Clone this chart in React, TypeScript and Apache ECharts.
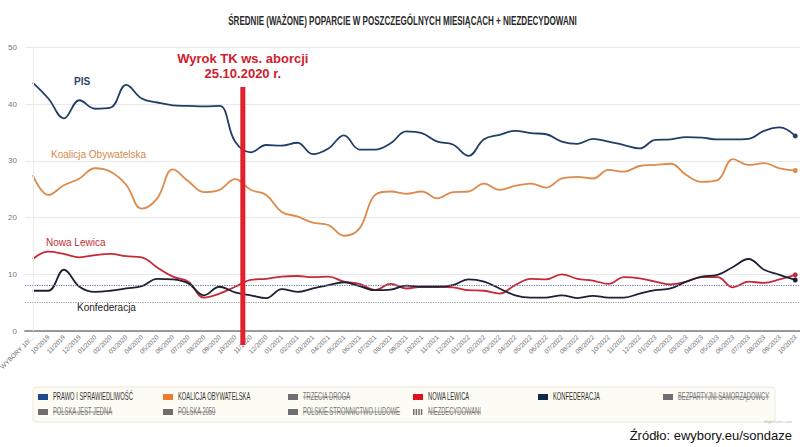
import React, { useEffect, useRef } from "react";
import * as echarts from "echarts";

const categories = [
  "WYBORY 10/2019",
  "10/2019", "11/2019", "12/2019",
  "01/2020", "02/2020", "03/2020", "04/2020", "05/2020", "06/2020", "07/2020", "08/2020", "09/2020", "10/2020", "11/2020", "12/2020",
  "01/2021", "02/2021", "03/2021", "04/2021", "05/2021", "06/2021", "07/2021", "08/2021", "09/2021", "10/2021", "11/2021", "12/2021",
  "01/2022", "02/2022", "03/2022", "04/2022", "05/2022", "06/2022", "07/2022", "08/2022", "09/2022", "10/2022", "11/2022", "12/2022",
  "01/2023", "02/2023", "03/2023", "04/2023", "05/2023", "06/2023", "07/2023", "08/2023", "09/2023", "10/2023",
];

const pis = [43.8, 41.0, 37.5, 40.7, 39.2, 39.4, 43.4, 41.0, 40.3, 39.8, 39.7, 39.6, 39.7, 33.4, 31.5, 32.8, 32.7, 33.2, 31.2, 32.2, 34.5, 32.0, 32.0, 33.1, 35.2, 34.9, 33.4, 32.9, 30.9, 33.8, 34.6, 35.3, 34.9, 34.7, 33.4, 33.0, 33.9, 33.4, 32.8, 32.2, 33.7, 33.8, 34.2, 34.1, 33.8, 33.8, 33.9, 35.3, 35.9, 34.4];
const ko = [27.5, 24.0, 25.7, 26.9, 28.7, 28.1, 25.8, 21.6, 23.4, 28.5, 26.4, 24.5, 24.9, 26.8, 24.9, 24.0, 21.0, 20.2, 19.1, 18.7, 16.8, 18.1, 24.0, 24.6, 24.2, 24.6, 23.4, 24.5, 24.6, 26.0, 24.9, 25.6, 26.0, 25.3, 26.9, 27.2, 26.9, 28.4, 28.1, 29.1, 29.3, 29.5, 27.5, 26.3, 26.6, 30.3, 29.3, 29.6, 28.7, 28.3];
const nl = [12.7, 14.0, 13.6, 13.0, 13.4, 13.6, 13.2, 13.0, 11.2, 9.6, 8.7, 5.9, 6.6, 7.8, 9.0, 9.2, 9.6, 9.7, 9.5, 9.6, 8.7, 8.3, 7.2, 8.3, 7.5, 7.8, 7.8, 7.7, 7.2, 7.1, 6.6, 8.1, 9.2, 9.1, 10.0, 9.2, 8.9, 8.3, 9.5, 9.3, 8.7, 8.2, 8.7, 9.5, 9.5, 7.7, 8.7, 8.5, 9.1, 9.9];
const konf = [7.1, 7.1, 10.8, 7.8, 6.9, 7.1, 7.5, 7.9, 9.2, 9.1, 8.4, 6.3, 7.8, 6.8, 6.3, 5.8, 7.4, 6.9, 7.5, 8.1, 8.6, 7.9, 7.2, 7.3, 8.0, 7.8, 7.8, 8.1, 9.1, 8.7, 7.5, 6.3, 5.9, 5.9, 6.3, 5.8, 6.2, 5.9, 5.9, 6.6, 7.2, 7.5, 8.7, 9.6, 9.9, 11.3, 12.7, 10.8, 9.9, 9.0];

const thresholds = [8, 5];
const eventPosition = 13.5; // between 10/2020 and 11/2020

const legendNames = [
  "PRAWO I SPRAWIEDLIWOŚĆ", "KOALICJA OBYWATELSKA", "TRZECIA DROGA", "NOWA LEWICA", "KONFEDERACJA", "BEZPARTYJNI SAMORZĄDOWCY",
  "POLSKA JEST JEDNA", "POLSKA 2050", "POLSKIE STRONNICTWO LUDOWE", "NIEZDECYDOWANI",
];
const legendColors = ["#1d4a8a", "#ee7d31", "#6f6f6f", "#e0101c", "#13294b", "#6f6f6f", "#6f6f6f", "#6f6f6f", "#6f6f6f", "#6f6f6f"];
const legendActive = [true, true, false, true, true, false, false, false, false, false];

const ARIAL = "'Liberation Sans', Arial, sans-serif";

function measure(text: string, font: string) {
  const c = document.createElement("canvas").getContext("2d");
  if (!c) return text.length * 5;
  c.font = font;
  return c.measureText(text).width;
}

export default function App() {
  const ref = useRef<HTMLDivElement>(null);
  useEffect(() => {
    if (!ref.current) return;
    const chart = echarts.init(ref.current, null, { renderer: "svg" });
    const last = categories.length - 1;
    const endDot = (_v: any, p: any) => (p.dataIndex === last ? 5 : 0);
    const mk = (name: string, data: number[], color: string, extra: any = {}) => ({
      type: "line",
      name,
      data,
      smooth: 0.4,
      symbol: "circle",
      showSymbol: true,
      symbolSize: endDot,
      itemStyle: { color },
      lineStyle: { color, width: 1.8 },
      ...extra,
    });
    chart.setOption({
      animation: false,
      grid: { left: 25, top: 47.5, width: 778, height: 283.5, outerBoundsMode: "none", containLabel: false },
      xAxis: {
        type: "category",
        data: categories,
        boundaryGap: true,
        axisLine: { lineStyle: { color: "#999", width: 2 } },
        axisTick: { show: false },
        splitLine: { show: false },
        axisLabel: {
          rotate: 45,
          interval: 0,
          fontSize: 6.5,
          color: "#6f6f6f",
          margin: 5,
          width: 47,
          overflow: "truncate",
          ellipsis: "...",
          fontFamily: ARIAL,
        },
      },
      yAxis: {
        type: "value",
        min: 0,
        max: 50,
        interval: 10,
        axisLine: { show: false },
        axisTick: { show: false },
        splitLine: { lineStyle: { color: "#e8e8e8", width: 1 } },
        axisLabel: { fontSize: 8, color: "#777", margin: 8, fontFamily: ARIAL },
      },
      series: [
        mk("Prawo i Sprawiedliwość", pis, "#213e66", {
          markLine: {
            silent: true,
            symbol: ["none", "none"],
            label: { show: false },
            data: [
              { yAxis: thresholds[0], lineStyle: { color: "#6b74a8", type: "dotted", width: 1.2 } },
              { yAxis: thresholds[1], lineStyle: { color: "#9a9a9a", type: "dotted", width: 1.2 } },
              { xAxis: categories[0], lineStyle: { color: "#ececec", type: "solid", width: 1 } },
            ],
          },
        }),
        mk("Koalicja Obywatelska", ko, "#de8a4c"),
        mk("Nowa Lewica", nl, "#c62a36"),
        mk("Konfederacja", konf, "#1c2233"),
      ],
    });

    const xa = chart.convertToPixel({ xAxisIndex: 0 }, categories[Math.floor(eventPosition)]) as number;
    const xb = chart.convertToPixel({ xAxisIndex: 0 }, categories[Math.ceil(eventPosition)]) as number;
    const cx = xa + (xb - xa) * (eventPosition - Math.floor(eventPosition));

    const g: any[] = [];
    // title (condensed look via horizontal scale)
    const titleText = "ŚREDNIE (WAŻONE) POPARCIE W POSZCZEGÓLNYCH MIESIĄCACH + NIEZDECYDOWANI";
    const titleFont = `bold 12.5px ${ARIAL}`;
    const titleScale = 349 / measure(titleText, titleFont);
    g.push({
      type: "text",
      x: 402.5,
      y: 20,
      scaleX: titleScale,
      style: { text: titleText, font: titleFont, fill: "#2b2b2b", align: "center", verticalAlign: "middle" },
    });
    // event line and annotation
    g.push({ type: "rect", shape: { x: cx - 2.5, y: 87, width: 5, height: 258 }, style: { fill: "#e0202a" }, z: 10 });
    g.push({
      type: "text",
      x: cx,
      y: 58,
      style: { text: "Wyrok TK ws. aborcji", font: `bold 13px ${ARIAL}`, fill: "#d0202e", align: "center", verticalAlign: "middle" },
    });
    g.push({
      type: "text",
      x: cx,
      y: 73,
      style: { text: "25.10.2020 r.", font: `bold 13px ${ARIAL}`, fill: "#d0202e", align: "center", verticalAlign: "middle" },
    });
    // series labels
    const lab = (text: string, x: number, y: number, fill: string, bold = false) =>
      g.push({ type: "text", x, y, style: { text, font: `${bold ? "bold " : ""}10px ${ARIAL}`, fill, verticalAlign: "middle" } });
    lab("PIS", 74, 81, "#2b4568", true);
    lab("Koalicja Obywatelska", 51, 154, "#d08a50");
    lab("Nowa Lewica", 46, 242, "#c0303a");
    lab("Konfederacja", 77, 307, "#222");

    // legend box
    g.push({
      type: "rect",
      shape: { x: 33, y: 387, width: 742, height: 35, r: 3 },
      style: { fill: "#fcfcf4", stroke: "#ebeadb", lineWidth: 1 },
    });
    const legFont = `10px ${ARIAL}`;
    const legScale = 80 / measure(legendNames[0], legFont);
    legendNames.forEach((name, i) => {
      const col = i % 6;
      const row = Math.floor(i / 6);
      const x = 38 + col * 125;
      const y = 397 + row * 15;
      const color = legendColors[i];
      if (name === "NIEZDECYDOWANI") {
        for (let k = 0; k < 4; k++) {
          g.push({ type: "rect", shape: { x: x + k * 2.6, y: y - 3, width: 1.5, height: 6 }, style: { fill: color } });
        }
      } else {
        g.push({ type: "rect", shape: { x, y: y - 3, width: 10, height: 6 }, style: { fill: color } });
      }
      const tcol = legendActive[i] ? "#333" : "#777";
      g.push({
        type: "text",
        x: x + 15,
        y,
        scaleX: legScale,
        style: { text: name, font: legFont, fill: tcol, verticalAlign: "middle" },
      });
      if (!legendActive[i]) {
        const w = measure(name, legFont) * legScale;
        g.push({ type: "line", shape: { x1: x + 15, y1: y, x2: x + 15 + w, y2: y }, style: { stroke: tcol, lineWidth: 0.8 } });
      }
    });
    g.push({
      type: "text",
      x: 792,
      y: 421,
      style: { text: "Highcharts.com", font: `4px ${ARIAL}`, fill: "#bbb", align: "right", verticalAlign: "middle" },
    });
    g.push({
      type: "text",
      x: 792,
      y: 435,
      style: { text: "Źródło: ewybory.eu/sondaze", font: `13px ${ARIAL}`, fill: "#111", align: "right", verticalAlign: "middle" },
    });

    chart.setOption({ graphic: { elements: g } });
    return () => chart.dispose();
  }, []);
  return <div ref={ref} style={{ position: "fixed", left: 0, top: 0, width: 800, height: 447, background: "#fff" }} />;
}
